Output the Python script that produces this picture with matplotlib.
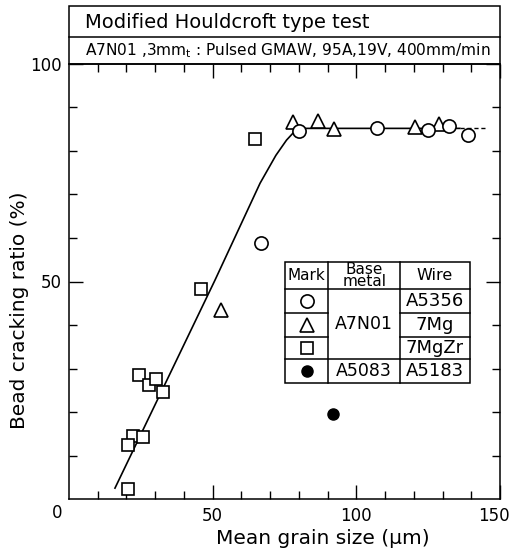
import matplotlib
matplotlib.use("Agg")
import matplotlib.pyplot as plt
import matplotlib.transforms as mtransforms
from matplotlib.patches import Rectangle
from matplotlib.lines import Line2D

# ---- data ----
sq_x = [45.8, 64.7, 24.5, 27.9, 30.3, 32.6, 22.4, 25.9, 20.6, 20.6]
sq_y = [48.2, 82.7, 28.5, 26.2, 27.5, 24.7, 14.5, 14.3, 12.3, 2.3]
tri_x = [52.9, 78.1, 86.7, 92.3, 120.4, 128.8]
tri_y = [43.4, 86.7, 87.0, 85.1, 85.6, 86.2]
circ_x = [66.8, 80.0, 107.1, 124.8, 132.3, 138.9]
circ_y = [58.9, 84.7, 85.4, 84.8, 85.7, 83.7]
fill_x = [92.0]
fill_y = [19.5]
curve_x = [16.0, 50.8, 66.5, 72.0, 75.7, 78.5, 81.0, 136.0]
curve_y = [2.5, 50.3, 72.6, 79.0, 82.5, 84.5, 85.2, 85.2]
tail_x = [136.0, 145.0]
tail_y = [85.2, 85.2]

x_ticklabels = ["50", "100", "150"]
y_ticklabels = ["50", "100"]

W, H = 511, 550
fig = plt.figure(figsize=(W / 100, H / 100), dpi=100)
L, R, T, B = 69, 500, 64, 499
ax = fig.add_axes([L / W, 1 - B / H, (R - L) / W, (B - T) / H])
ax.set_xlim(0, 150)
ax.set_ylim(0, 100)

lw = 1.1
ax.plot(curve_x, curve_y, color="black", lw=1.2, zorder=2)
ax.plot(tail_x, tail_y, color="black", lw=1.0, ls=(0, (3, 2)), zorder=2)

mk = dict(linestyle="none", mfc="white", mec="black", mew=1.2, zorder=3)
ax.plot(sq_x, sq_y, marker="s", ms=8.5, **mk)
ax.plot(tri_x, tri_y, marker="^", ms=9.5, **mk)
ax.plot(circ_x, circ_y, marker="o", ms=9.5, **mk)
ax.plot(fill_x, fill_y, marker="o", ms=8, linestyle="none", color="black", zorder=3)

for s in ax.spines.values():
    s.set_linewidth(lw)

ax.set_xticks([50, 100, 150])
ax.set_xticklabels(x_ticklabels)
ax.set_yticks([50, 100])
ax.set_yticklabels(y_ticklabels)
ax.set_xticks(range(10, 150, 10), minor=True)
ax.set_yticks(range(10, 100, 10), minor=True)
ax.tick_params(which="both", direction="in", top=True, right=True, width=1.0)
ax.tick_params(which="major", length=10, labelsize=12, pad=5)
ax.tick_params(which="minor", length=6)
ax.tick_params(axis="x", which="major", pad=6)
# keep the last x label inside the figure
lab150 = ax.get_xticklabels()[-1]
lab150.set_transform(lab150.get_transform() +
                     mtransforms.ScaledTranslation(-6 / 100, 0, fig.dpi_scale_trans))

ax.text(-0.028, -0.032, "0", transform=ax.transAxes, ha="center", va="center", fontsize=12)

fig.text(323 / W, 1 - 538 / H, "Mean grain size (\u03bcm)", ha="center", va="center", fontsize=14.5)
fig.text(20 / W, 1 - 310 / H, "Bead cracking ratio (%)", ha="center", va="center",
         rotation=90, fontsize=14.5)

# ---- header box ----
fx0, fx1 = L / W, R / W
fy_top, fy_mid, fy_bot = 1 - 6 / H, 1 - 37 / H, 1 - T / H
fig.patches.append(Rectangle((fx0, fy_bot), fx1 - fx0, fy_top - fy_bot, transform=fig.transFigure,
                             fill=False, ec="black", lw=lw))
fig.lines.append(Line2D([fx0, fx1], [fy_mid, fy_mid], transform=fig.transFigure, color="black", lw=lw))
fig.text(85 / W, 1 - 22 / H, "Modified Houldcroft type test", ha="left", va="center", fontsize=14)
fig.text(85 / W, 1 - 51 / H,
         "A7N01 ,3mm$_{\\mathregular{t}}$ : Pulsed GMAW, 95A,19V, 400mm/min",
         ha="left", va="center", fontsize=11.1)

# ---- legend table (axes fractions) ----
cx = [0.501, 0.6016, 0.768, 0.930]
ry = [0.5455, 0.482, 0.4269, 0.3731, 0.3218, 0.2674]
tr = ax.transAxes
ax.add_patch(Rectangle((cx[0], ry[5]), cx[3] - cx[0], ry[0] - ry[5], transform=tr,
                       fc="white", ec="black", lw=lw, zorder=4))
def hl(x0, x1, y):
    ax.add_line(Line2D([x0, x1], [y, y], transform=tr, color="black", lw=lw, zorder=5))
def vl(x, y0, y1):
    ax.add_line(Line2D([x, x], [y0, y1], transform=tr, color="black", lw=lw, zorder=5))
vl(cx[1], ry[5], ry[0])
vl(cx[2], ry[5], ry[0])
hl(cx[0], cx[3], ry[1])
hl(cx[0], cx[1], ry[2]); hl(cx[2], cx[3], ry[2])
hl(cx[0], cx[1], ry[3]); hl(cx[2], cx[3], ry[3])
hl(cx[0], cx[3], ry[4])

def ctext(x, y, s, fs=13, **kw):
    ax.text(x, y, s, transform=tr, ha="center", va="center", fontsize=fs, zorder=6, **kw)

mc = (cx[0] + cx[1]) / 2
bc = (cx[1] + cx[2]) / 2
wc = (cx[2] + cx[3]) / 2
ctext(mc, (ry[0] + ry[1]) / 2, "Mark", fs=11)
ctext(bc, (ry[0] + ry[1]) / 2, "Base\nmetal", fs=11, linespacing=0.72)
ctext(wc, (ry[0] + ry[1]) / 2, "Wire", fs=11.5)
ctext(wc, (ry[1] + ry[2]) / 2, "A5356")
ctext(wc, (ry[2] + ry[3]) / 2, "7Mg")
ctext(wc, (ry[3] + ry[4]) / 2, "7MgZr")
ctext(wc, (ry[4] + ry[5]) / 2, "A5183")
ctext(bc, (ry[1] + ry[4]) / 2, "A7N01", fs=12.5)
ctext(bc, (ry[4] + ry[5]) / 2, "A5083", fs=12.5)
lm = dict(transform=tr, linestyle="none", zorder=6)
ax.plot([mc], [(ry[1] + ry[2]) / 2], marker="o", ms=9.5, mfc="white", mec="black", mew=1.2, **lm)
ax.plot([mc], [(ry[2] + ry[3]) / 2], marker="^", ms=9.5, mfc="white", mec="black", mew=1.2, **lm)
ax.plot([mc], [(ry[3] + ry[4]) / 2], marker="s", ms=8, mfc="white", mec="black", mew=1.2, **lm)
ax.plot([mc], [(ry[4] + ry[5]) / 2], marker="o", ms=8, color="black", **lm)

fig.savefig("out.png", dpi=100)
